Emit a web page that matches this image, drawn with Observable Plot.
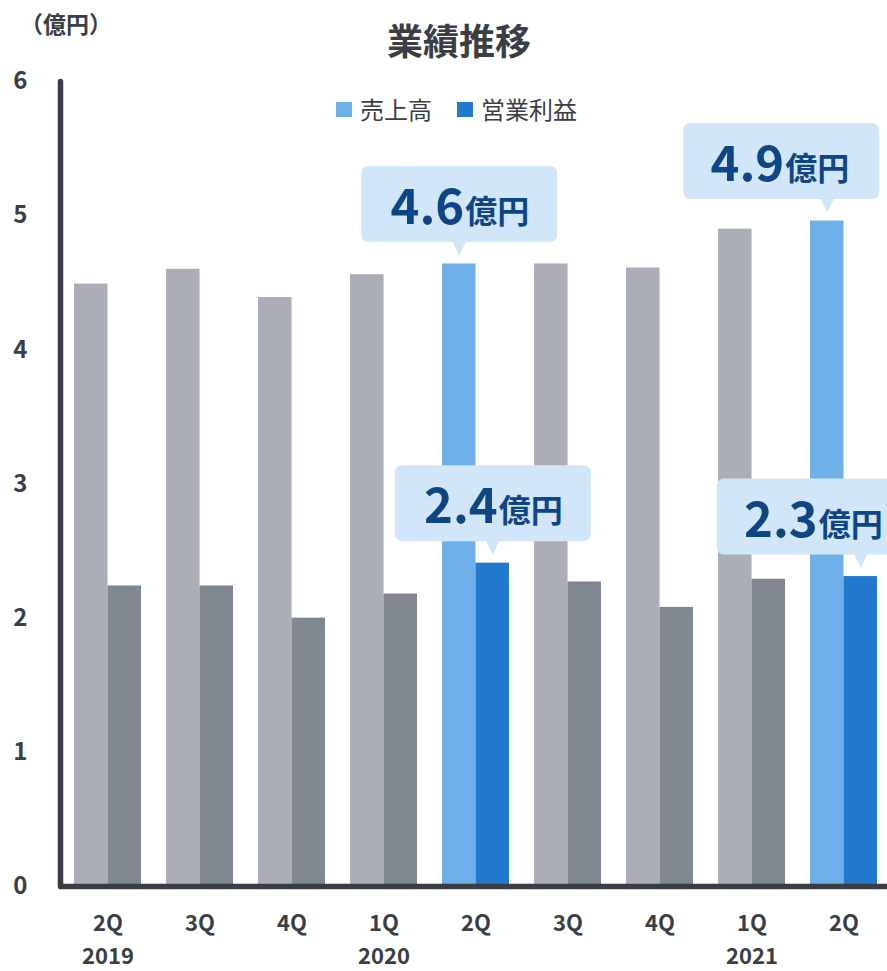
<!DOCTYPE html>
<html>
<head>
<meta charset="utf-8">
<script src="https://cdn.jsdelivr.net/npm/d3@7"></script>
<script src="https://cdn.jsdelivr.net/npm/@observablehq/plot@0.6"></script>
<style>
  html, body { margin: 0; padding: 0; background: #fff; overflow: hidden; }
  body { font-family: "Noto Sans CJK JP", "Noto Sans", sans-serif; }
  #wrap { position: relative; width: 887px; height: 971px; overflow: hidden; }
  #chart { position: absolute; left: 0; top: 0; width: 900px; }
  #title { position: absolute; left: 0; width: 918px; top: 21px; text-align: center; font-size: 36px; font-weight: 700; color: #3a3e44; line-height: 1; }
  #unit { position: absolute; left: 20px; top: 12px; font-size: 23px; font-weight: 700; color: #3a3e44; line-height: 1; }
  #legend { position: absolute; left: 336px; top: 97px; display: flex; align-items: center; font-size: 24px; color: #3a3e44; line-height: 1; }
  #legend .item { display: flex; align-items: center; margin-right: 25px; }
  #legend .sw { width: 16px; height: 15px; margin-right: 8px; }
</style>
</head>
<body>
<div id="wrap">
  <div id="chart"></div>
  <div id="unit">（億円）</div>
  <div id="title">業績推移</div>
  <div id="legend"></div>
</div>
<script>
// ---- data ----
const periods = ["2019-2Q","2019-3Q","2019-4Q","2020-1Q","2020-2Q","2020-3Q","2020-4Q","2021-1Q","2021-2Q"];
const quarterLabels = ["2Q","3Q","4Q","1Q","2Q","3Q","4Q","1Q","2Q"];
const yearLabels = ["2019","","","2020","","","","2021",""];
const seriesNames = ["売上高","営業利益"];
const salesValues = [4.49, 4.60, 4.39, 4.56, 4.64, 4.64, 4.61, 4.90, 4.96];
const profitValues = [2.24, 2.24, 2.00, 2.18, 2.41, 2.27, 2.08, 2.29, 2.31];
const highlightPeriods = ["2020-2Q","2021-2Q"];
const calloutPeriods = ["2020-2Q","2020-2Q","2021-2Q","2021-2Q"];
const calloutSeries = ["売上高","営業利益","売上高","営業利益"];
const calloutLabels = ["4.6","2.4","4.9","2.3"];
const calloutUnit = "億円";
const yTicks = [0, 1, 2, 3, 4, 5, 6];
const chartTitle = "業績推移";
const unitLabel = "（億円）";

// ---- styles ----
const baseColors = {"売上高": "#abaeb6", "営業利益": "#808791"};
const hiColors = {"売上高": "#70b0e8", "営業利益": "#2379cf"};
const INK = "#3a3e44";
const NAVY = "#0e4585";
const BUBBLE = "#d1e6f8";
const HALF = 33.5;

document.getElementById("title").textContent = chartTitle;
document.getElementById("unit").textContent = unitLabel;
const legend = document.getElementById("legend");
seriesNames.forEach(s => {
  const it = document.createElement("div"); it.className = "item";
  const sw = document.createElement("div"); sw.className = "sw"; sw.style.background = hiColors[s];
  const tx = document.createElement("span"); tx.textContent = s;
  it.appendChild(sw); it.appendChild(tx); legend.appendChild(it);
});

const rows = periods.flatMap((p, i) => [
  {period: p, series: seriesNames[0], value: salesValues[i]},
  {period: p, series: seriesNames[1], value: profitValues[i]}
]);
rows.forEach(d => { d.fill = highlightPeriods.includes(d.period) ? hiColors[d.series] : baseColors[d.series]; });

const callouts = calloutPeriods.map((p, i) => ({
  period: p,
  series: calloutSeries[i],
  label: calloutLabels[i],
  value: rows.find(r => r.period === p && r.series === calloutSeries[i]).value,
  edge: p === periods[periods.length - 1]
}));

function bubble(left) {
  const W = 196, T = -98, B = -22, r = 7;
  const L = left, R = left + W;
  return {
    draw(ctx) {
      ctx.moveTo(L + r, T);
      ctx.lineTo(R - r, T);
      ctx.arcTo(R, T, R, T + r, r);
      ctx.lineTo(R, B - r);
      ctx.arcTo(R, B, R - r, B, r);
      ctx.lineTo(6.5, B);
      ctx.lineTo(0, -8.5);
      ctx.lineTo(-6.5, B);
      ctx.lineTo(L + r, B);
      ctx.arcTo(L, B, L, B - r, r);
      ctx.lineTo(L, T + r);
      ctx.arcTo(L, T, L + r, T, r);
      ctx.closePath();
    }
  };
}

const calloutMarks = callouts.flatMap(c => {
  const off = c.series === seriesNames[0] ? -HALF / 2 : HALF / 2;
  const left = c.edge ? -144 : -98;
  const split = left + 98 + (c.edge ? 3 : 5);
  return [
    Plot.dot([c], {x: "period", y: "value", dx: off, symbol: bubble(left), fill: BUBBLE, stroke: "none", r: 5}),
    Plot.text([c], {x: "period", y: "value", text: d => d.label, dx: off + split, dy: -40,
      textAnchor: "end", lineAnchor: "bottom", fontSize: 49, fontWeight: 700, fill: NAVY}),
    Plot.text([c], {x: "period", y: "value", text: () => calloutUnit, dx: off + split + 1, dy: -41,
      textAnchor: "start", lineAnchor: "bottom", fontSize: 32, fontWeight: 700, fill: NAVY})
  ];
});

const chart = Plot.plot({
  width: 900,
  height: 971,
  marginTop: 81,
  marginBottom: 85,
  marginLeft: 60,
  marginRight: 9,
  style: {fontFamily: '"Noto Sans CJK JP", sans-serif', background: "transparent", color: INK, maxWidth: "none", overflow: "visible"},
  x: {domain: periods, paddingInner: 0.274, paddingOuter: 0.141},
  y: {domain: [0, 6]},
  color: {type: "identity"},
  marks: [
    Plot.barY(rows.filter(d => d.series === seriesNames[0]), {x: "period", y: "value", fill: "fill", insetRight: HALF}),
    Plot.barY(rows.filter(d => d.series === seriesNames[1]), {x: "period", y: "value", fill: "fill", insetLeft: HALF}),
    Plot.ruleY([0], {stroke: INK, strokeWidth: 5.5}),
    Plot.frame({anchor: "left", stroke: INK, strokeWidth: 5.5, strokeLinecap: "round"}),
    Plot.axisY({ticks: yTicks, tickFormat: d => String(d), tickSize: 0, tickPadding: 33, fontSize: 24, fontWeight: 700, label: null, fill: INK}),
    Plot.axisX({tickSize: 0, tickPadding: 29, tickFormat: d => quarterLabels[periods.indexOf(d)], fontSize: 22, fontWeight: 700, label: null, fill: INK}),
    Plot.axisX({tickSize: 0, tickPadding: 62, tickFormat: d => yearLabels[periods.indexOf(d)], fontSize: 22, fontWeight: 700, label: null, fill: INK}),
    ...calloutMarks
  ]
});
document.getElementById("chart").appendChild(chart);
</script>
</body>
</html>
